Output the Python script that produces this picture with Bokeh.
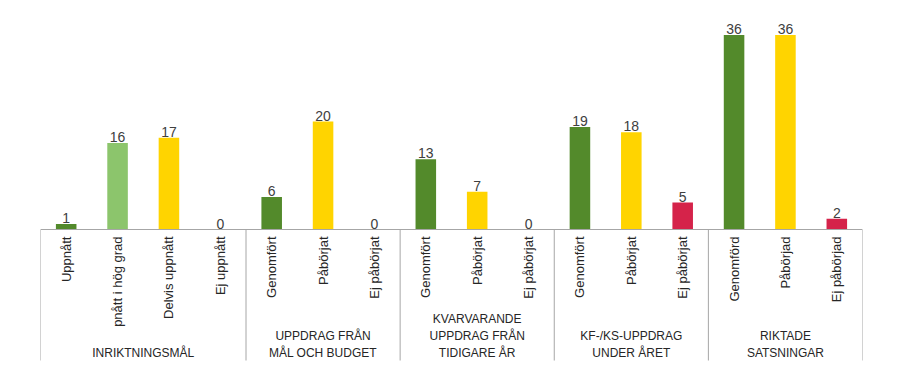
import math
from bokeh.plotting import figure
from bokeh.models import FixedTicker, ColumnDataSource, Range1d
from bokeh.core.properties import value
from bokeh.embed import file_html
from bokeh.resources import INLINE

# ---- data ----
groups = ["INRIKTNINGSMÅL", "UPPDRAG FRÅN\nMÅL OCH BUDGET",
          "KVARVARANDE\nUPPDRAG FRÅN\nTIDIGARE ÅR",
          "KF-/KS-UPPDRAG\nUNDER ÅRET", "RIKTADE\nSATSNINGAR"]
group_sizes = [4, 3, 3, 3, 3]
categories = ["Uppnått", "pnått i hög grad", "Delvis uppnått", "Ej uppnått",
              "Genomfört", "Påbörjat", "Ej påbörjat",
              "Genomfört", "Påbörjat", "Ej påbörjat",
              "Genomfört", "Påbörjat", "Ej påbörjat",
              "Genomförd", "Påbörjad", "Ej påbörjad"]
values = [1, 16, 17, 0, 6, 20, 0, 13, 7, 0, 19, 18, 5, 36, 36, 2]
statuses = ["klar", "hog", "delvis", "ej",
            "klar", "delvis", "ej",
            "klar", "delvis", "ej",
            "klar", "delvis", "ej",
            "klar", "delvis", "ej"]

# ---- style ----
status_colors = {"klar": "#538A2B", "hog": "#8CC56C", "delvis": "#FFD400", "ej": "#D5234A"}
FONT = "Liberation Sans"
W, H = 900, 382
BL, BR = 40, 38
PX = 5.4          # pixels per unit
BASE = 229        # baseline pixel from top of figure
y_end = BASE / PX
y_start = -(H - BASE) / PX

x = list(range(len(categories)))
src = ColumnDataSource(dict(x=x, top=values, cat=categories,
                            color=[status_colors[s] for s in statuses],
                            lab=[str(v) for v in values]))

p = figure(width=W, height=H, output_backend="svg", toolbar_location=None,
           x_range=Range1d(-0.5, len(categories) - 0.5), y_range=Range1d(y_start, y_end),
           min_border_left=BL, min_border_right=BR, min_border_top=0, min_border_bottom=0)
p.outline_line_color = None
p.xgrid.visible = False
p.ygrid.visible = False
p.yaxis.visible = False
p.background_fill_color = "white"

p.vbar(x="x", top="top", bottom=0, width=0.4, fill_color="color", line_color=None, source=src)
p.text(x="x", y="top", text="lab", source=src, text_align="center", text_baseline="bottom",
       y_offset=-1, text_font=value(FONT), text_font_size="14px", text_color="#404040")

ax = p.xaxis[0]
ax.fixed_location = 0
ax.ticker = FixedTicker(ticks=x)
ax.major_label_overrides = {i: c for i, c in enumerate(categories)}
ax.major_label_orientation = math.pi / 2
ax.major_tick_line_color = None
ax.minor_tick_line_color = None
ax.major_tick_out = 0
ax.major_tick_in = 0
ax.major_label_standoff = 7
ax.axis_line_color = "#A6A6A6"
ax.major_label_text_font = FONT
ax.major_label_text_font_size = "13px"
ax.major_label_text_color = "#262626"

# separators and group labels
sep_bottom = -(360 - BASE) / PX
edges = [-0.5]
for n in group_sizes:
    edges.append(edges[-1] + n)
p.segment(x0=edges, y0=[0] * len(edges), x1=edges, y1=[sep_bottom] * len(edges),
          line_color="#A6A6A6", line_width=1)

gx, gy, gt = [], [], []
for i, g in enumerate(groups):
    cx = (edges[i] + edges[i + 1]) / 2
    lines = g.split("\n")
    for k, line in enumerate(reversed(lines)):
        ypx = 352 - 17 * k
        gx.append(cx)
        gy.append(-(ypx - BASE) / PX)
        gt.append(line)
p.text(x=gx, y=gy, text=gt, text_align="center", text_baseline="middle",
       text_font=value(FONT), text_font_size="12px", text_color="#262626")

open("out.html", "w").write(file_html(p, INLINE))
